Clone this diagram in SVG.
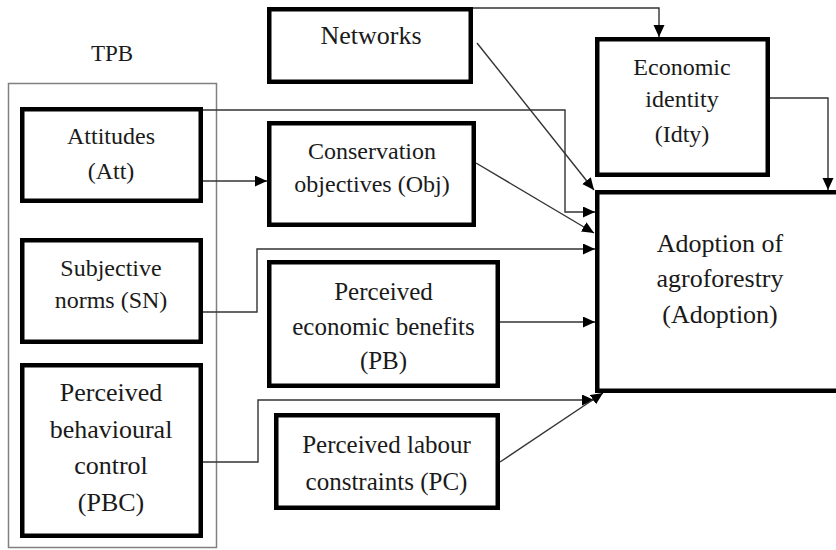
<svg xmlns="http://www.w3.org/2000/svg" width="836" height="550" viewBox="0 0 836 550">
  <style>
    .box { fill: #ffffff; stroke: #000000; stroke-width: 4.5; }
    .frame { fill: none; stroke: #808080; stroke-width: 1.5; }
    .lbl { fill: #1a1a1a; text-anchor: middle; font-family: 'Liberation Serif', 'Times New Roman', serif; }
    .edge { fill: none; stroke: #333333; stroke-width: 1.4; marker-end: url(#arrow); }
  </style>
  <defs>
    <marker id="arrow" markerUnits="userSpaceOnUse" markerWidth="13" markerHeight="12" refX="12" refY="5.5" orient="auto">
      <path d="M0,0 L12,5.5 L0,11 Z" fill="#000000"/>
    </marker>
  </defs>
  <rect width="836" height="550" fill="#ffffff"/>

  <!-- Theory of Planned Behaviour grouping -->
  <g id="tpb">
    <rect class="frame" x="8.5" y="83.5" width="208" height="464"/>
    <text class="lbl" x="112" y="61" font-size="23">TPB</text>
  </g>

  <!-- connectors -->
  <g id="connectors">
    <path class="edge" d="M473,8 H659 V37"/>
    <path class="edge" d="M477,43 L594,190"/>
    <path class="edge" d="M203,110 H565 V212 H595"/>
    <path class="edge" d="M203,181 H267"/>
    <path class="edge" d="M476,163 L594,233"/>
    <path class="edge" d="M203,312 H257 V249 H595"/>
    <path class="edge" d="M500,322 H595"/>
    <path class="edge" d="M203,462 H258 V400 H594"/>
    <path class="edge" d="M500,462 L603,393"/>
    <path class="edge" d="M770,98 H828 V190"/>
  </g>

  <g id="att">
    <rect class="box" x="22.25" y="109.25" width="178.5" height="91.5"/>
    <text class="lbl" font-size="24"><tspan x="111" y="144">Attitudes</tspan><tspan x="111" y="179">(Att)</tspan></text>
  </g>

  <g id="sn">
    <rect class="box" x="22.25" y="240.25" width="178.5" height="101.5"/>
    <text class="lbl" font-size="24"><tspan x="111" y="276">Subjective</tspan><tspan x="111" y="308">norms (SN)</tspan></text>
  </g>

  <g id="pbc">
    <rect class="box" x="22.25" y="365.25" width="178.5" height="170.5"/>
    <text class="lbl" font-size="26"><tspan x="111" y="401">Perceived</tspan><tspan x="111" y="438">behavioural</tspan><tspan x="111" y="474">control</tspan><tspan x="111" y="511">(PBC)</tspan></text>
  </g>

  <g id="networks">
    <rect class="box" x="269.25" y="9.25" width="201.5" height="72.5"/>
    <text class="lbl" x="371" y="44" font-size="26">Networks</text>
  </g>

  <g id="obj">
    <rect class="box" x="269.25" y="123.25" width="204.5" height="101.5"/>
    <text class="lbl" font-size="24"><tspan x="372" y="159">Conservation</tspan><tspan x="372" y="192">objectives (Obj)</tspan></text>
  </g>

  <g id="pb">
    <rect class="box" x="269.25" y="262.25" width="228.5" height="123.5"/>
    <text class="lbl" font-size="25"><tspan x="383.5" y="300">Perceived</tspan><tspan x="383.5" y="335">economic benefits</tspan><tspan x="383.5" y="369">(PB)</tspan></text>
  </g>

  <g id="pc">
    <rect class="box" x="276.25" y="415.25" width="221.5" height="92.5"/>
    <text class="lbl" font-size="25"><tspan x="386.5" y="453">Perceived labour</tspan><tspan x="386.5" y="490">constraints (PC)</tspan></text>
  </g>

  <g id="idty">
    <rect class="box" x="597.25" y="39.25" width="170.5" height="135.5"/>
    <text class="lbl" font-size="24"><tspan x="682" y="75">Economic</tspan><tspan x="682" y="107">identity</tspan><tspan x="682" y="142">(Idty)</tspan></text>
  </g>

  <g id="adoption">
    <rect class="box" x="597.25" y="192.25" width="250" height="198.5"/>
    <text class="lbl" font-size="26"><tspan x="720" y="252">Adoption of</tspan><tspan x="720" y="287">agroforestry</tspan><tspan x="720" y="323">(Adoption)</tspan></text>
  </g>
</svg>
